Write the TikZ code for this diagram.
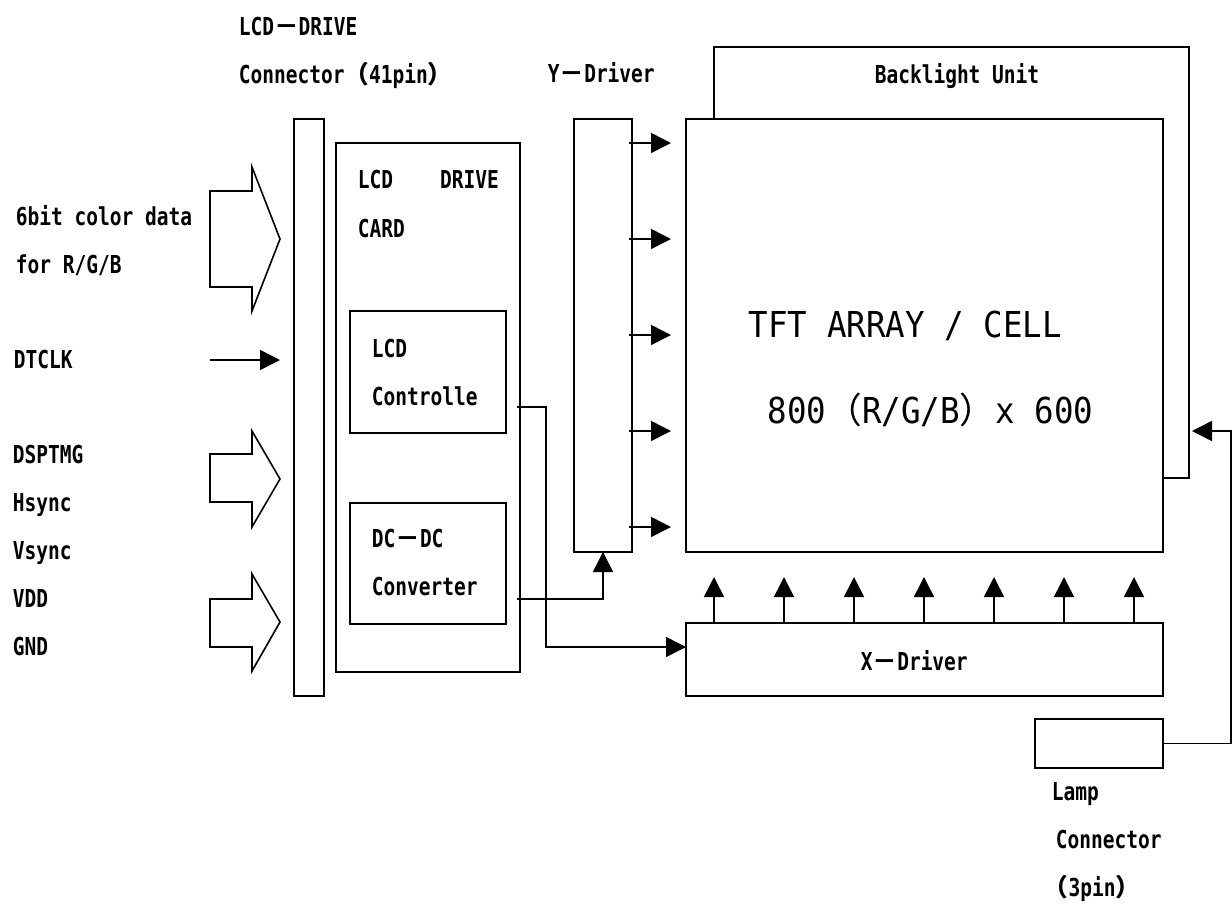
\documentclass[tikz,border=0pt]{standalone}
\usepackage{fontspec}
\setmainfont{DejaVu Sans Mono}[FakeStretch=0.79]
\newfontfamily\bigf{DejaVu Sans Mono}[FakeStretch=0.91]
\newfontfamily\cjk{Noto Sans CJK JP}
\usetikzlibrary{arrows.meta}
\newcommand\fwl{{\cjk （}}
\newcommand\fwr{{\cjk ）}}
\newcommand\fwd{{\cjk －}}
\begin{document}
\begin{tikzpicture}[x=1pt,y=-1pt,line width=1.6pt,
  box/.style={draw,inner sep=0pt,outer sep=0pt,anchor=north west},
  lbl/.style={inner sep=0pt,anchor=base west,font=\fontsize{24.7}{30}\selectfont\bfseries},
  biglbl/.style={inner sep=0pt,anchor=base west,font=\bigf\fontsize{35.7}{42}\selectfont},
  arr/.style={-{Triangle[length=20pt,width=20pt]}},
  fatarrow/.style={draw,line join=miter}]
\useasboundingbox (0,0) rectangle (1232,903);

% boxes
\node[box,minimum width=30pt,minimum height=577pt] (conn) at (294,119) {};
\node[box,minimum width=184pt,minimum height=529pt] (card) at (336,143) {};
\node[box,minimum width=156pt,minimum height=122pt] (ctrl) at (350,311) {};
\node[box,minimum width=156pt,minimum height=121pt] (dcdc) at (350,503) {};
\node[box,minimum width=58pt,minimum height=433pt] (ydrv) at (574,119) {};
\node[box,minimum width=475pt,minimum height=431pt] (bl) at (714,47) {};
\node[box,fill=white,minimum width=477pt,minimum height=433pt] (tft) at (686,119) {};
\node[box,minimum width=477pt,minimum height=73pt] (xdrv) at (686,623) {};
\node[box,minimum width=128pt,minimum height=49pt] (lamp) at (1035,719) {};

% fat input arrows
\draw[fatarrow] (210,191) -- (252,191) -- (252,167) -- (280,239) -- (252,311) -- (252,287) -- (210,287) -- cycle;
\draw[fatarrow] (210,454) -- (252,454) -- (252,431) -- (280,479) -- (252,527) -- (252,502) -- (210,502) -- cycle;
\draw[fatarrow] (210,599) -- (252,599) -- (252,574) -- (280,622) -- (252,671) -- (252,647) -- (210,647) -- cycle;

% DTCLK arrow
\coordinate (dtS) at (210,360);
\coordinate (dtE) at (280,360);
\draw[arr] (dtS) -- (dtE);

% Y-driver outputs
\foreach \yy in {143,239,335,431,527}{
  \draw[arr] (629,\yy) -- (671,\yy);
}
% X-driver outputs
\foreach \xx in {714,784,854,924,994,1064,1134}{
  \draw[arr] (\xx,623) -- (\xx,577);
}

% controller to X-driver
\coordinate (c1) at (517,407);
\coordinate (c2) at (546,647);
\coordinate (c3) at (686,647);
\draw[arr] (c1) -| (c2) -- (c3);

% DC-DC to Y-driver
\coordinate (d1) at (517,599);
\draw[arr] (d1) -| (ydrv.south);

% lamp connector to backlight
\coordinate (l1) at (1231,431);
\coordinate (l2) at (1192,431);
\draw[arr] (lamp.east) -| (l1) -- (l2);

% labels
\node[lbl] (tlcd) at (238,35) {LCD\fwd DRIVE};
\node[lbl] (tconn) at (238,83) {Connector\fwl 41pin\fwr};
\node[lbl] (tydrv) at (547,82) {Y\fwd Driver};
\node[lbl,anchor=base] (tbl) at (957,83) {Backlight Unit};
\node[lbl] (t6bit) at (15,225) {6bit color data};
\node[lbl] (trgb) at (15,273) {for R/G/B};
\node[lbl] (tclk) at (13,368) {DTCLK};
\node[lbl] (tdsp) at (12,463) {DSPTMG};
\node[lbl] (thsy) at (12,511) {Hsync};
\node[lbl] (tvsy) at (12,559) {Vsync};
\node[lbl] (tvdd) at (12,607) {VDD};
\node[lbl] (tgnd) at (12,655) {GND};
\node[lbl] (tcard1) at (357,188) {LCD\ \ \ \ DRIVE};
\node[lbl] (tcard2) at (357,237) {CARD};
\node[lbl] (tctrl1) at (371,357) {LCD};
\node[lbl] (tctrl2) at (371,405) {Controlle};
\node[lbl] (tdc1) at (371,547) {DC\fwd DC};
\node[lbl] (tdc2) at (371,595) {Converter};
\node[biglbl] (ttft1) at (748,337) {TFT ARRAY / CELL};
\node[biglbl] (ttft2) at (767,423) {800\fwl R/G/B\fwr x 600};
\node[lbl] (txdrv) at (860,670) {X\fwd Driver};
\node[lbl] (tlamp1) at (1051,800) {Lamp};
\node[lbl] (tlamp2) at (1055,848) {Connector};
\node[lbl] (tlamp3) at (1043,896) {\fwl 3pin\fwr};
\end{tikzpicture}
\end{document}
